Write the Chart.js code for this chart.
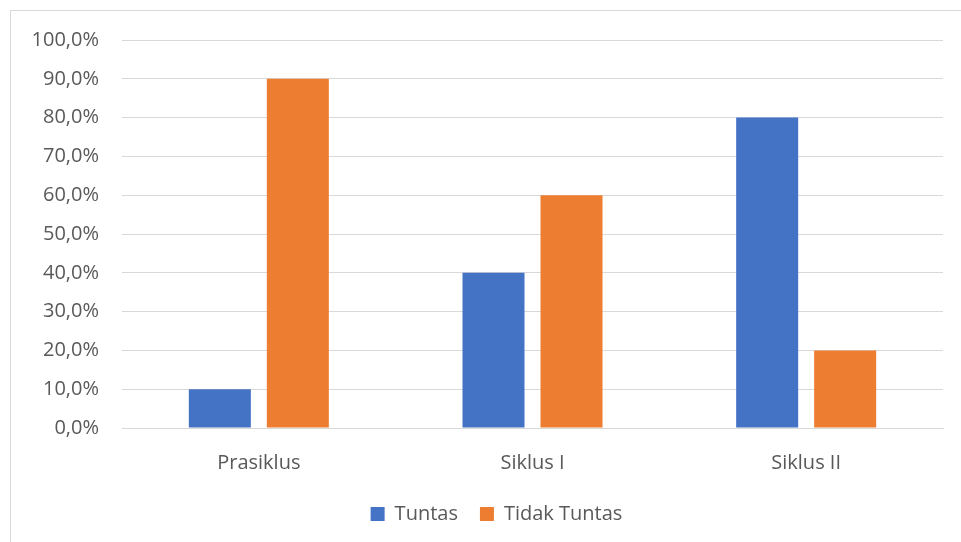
<!DOCTYPE html>
<html>
<head>
<meta charset="utf-8">
<script src="https://cdn.jsdelivr.net/npm/chart.js@4/dist/chart.umd.min.js"></script>
<style>
  html, body { margin: 0; padding: 0; background: #fff; overflow: hidden; }
  #wrap { position: relative; width: 961px; height: 542px; }
  #frame { position: absolute; left: 10px; top: 10px; width: 980px; height: 560px; border: 1px solid #d9d9d9; box-sizing: border-box; }
  canvas { position: absolute; left: 0; top: 0; }
</style>
</head>
<body>
<div id="wrap">
  <div id="frame"></div>
  <canvas id="barChart" width="961" height="542"></canvas>
</div>
<script>
"use strict";

const categories = ["Prasiklus", "Siklus I", "Siklus II"];
const tuntasValues = [10, 40, 80];
const tidakTuntasValues = [90, 60, 20];
const seriesNames = ["Tuntas", "Tidak Tuntas"];

const textColor = "#595959";
const fontFamily = "'Open Sans', 'Noto Sans', sans-serif";

// nudge the legend a bit to the right, the original isn't centred on the canvas
const legendShift = {
  id: "legendShift",
  afterLayout: (chart) => {
    if (chart.legend) {
      chart.legend.left += 25;
      chart.legend.right += 25;
    }
  },
};

document.addEventListener("DOMContentLoaded", () => {
  const ctx = document.querySelector("#barChart");
  new Chart(ctx, {
    type: "bar",
    data: {
      labels: categories,
      datasets: [
        {
          label: seriesNames[0],
          data: tuntasValues,
          backgroundColor: "#4472C4",
        },
        {
          label: seriesNames[1],
          data: tidakTuntasValues,
          backgroundColor: "#ED7D31",
        },
      ],
    },
    plugins: [legendShift],
    options: {
      responsive: false,
      animation: false,
      categoryPercentage: 0.57,
      barPercentage: 0.795,
      layout: {
        padding: { left: 0, right: 18, top: 40, bottom: 8 },
      },
      scales: {
        y: {
          min: 0,
          max: 100,
          ticks: {
            stepSize: 10,
            padding: 23,
            color: textColor,
            font: { family: fontFamily, size: 20 },
            callback: (value) => value.toFixed(1).replace(".", ",") + "%",
          },
          grid: { color: "#d9d9d9", lineWidth: 1, drawTicks: false },
          border: { display: false },
          afterFit: (axis) => { axis.width = 122; },
        },
        x: {
          ticks: {
            padding: 23,
            color: textColor,
            font: { family: fontFamily, size: 20 },
          },
          grid: { display: false, drawTicks: false },
          border: { color: "#d9d9d9", width: 1 },
          afterFit: (axis) => { axis.height = 54; },
        },
      },
      plugins: {
        legend: {
          position: "bottom",
          labels: {
            boxWidth: 14,
            boxHeight: 14,
            padding: 22,
            color: textColor,
            font: { family: fontFamily, size: 20 },
          },
        },
        tooltip: { enabled: false },
      },
    },
  });
});
</script>
</body>
</html>
